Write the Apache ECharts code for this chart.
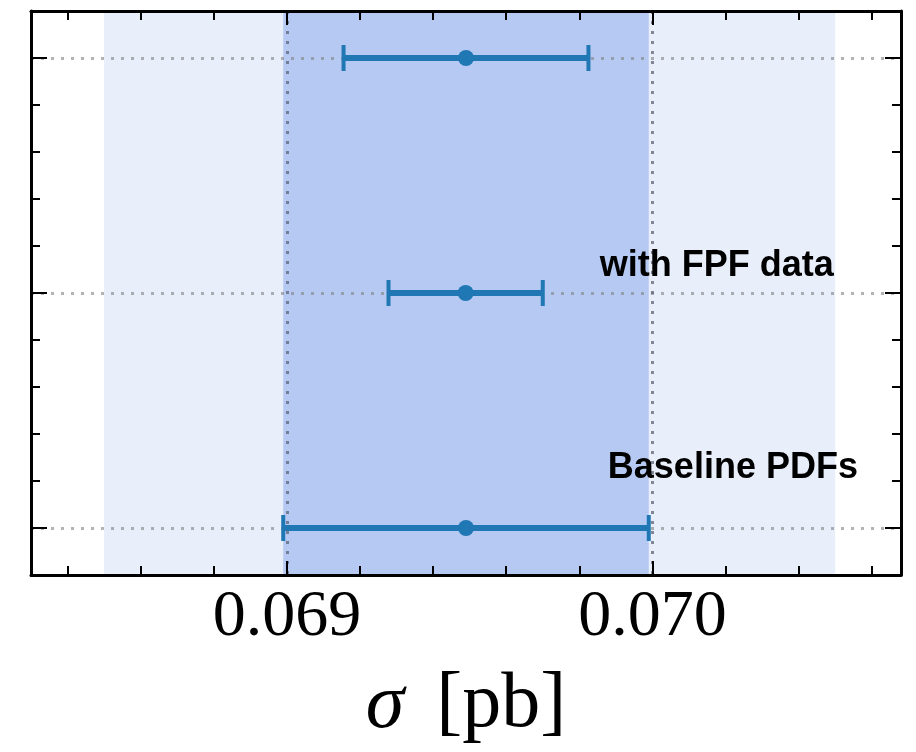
<!DOCTYPE html>
<html>
<head>
<meta charset="utf-8">
<script src="https://cdn.jsdelivr.net/npm/echarts@6/dist/echarts.min.js"></script>
<style>
  html, body { margin: 0; padding: 0; background: #ffffff; }
  #chart { width: 916px; height: 752px; }
</style>
</head>
<body>
<div id="chart"></div>
<script>
// Cross-section estimates: row index (0 = bottom), central value and uncertainty range
const rows = [2, 1, 0];
const centers = [0.06949, 0.069489, 0.06949];
const lows = [0.069155, 0.069278, 0.06899];
const highs = [0.069825, 0.0697, 0.06999];

// Shaded uncertainty bands (outer, inner)
const bandLows = [0.0685, 0.06899];
const bandHighs = [0.0705, 0.06999];

// Axis ranges and ticks
const xRange = [0.0683, 0.07068];
const yRange = [-0.2, 2.2];
const xMinorTicks = [0.0684, 0.0686, 0.0688, 0.0690, 0.0692, 0.0694, 0.0696, 0.0698, 0.0700, 0.0702, 0.0704, 0.0706];
const xMajorTicks = [0.069, 0.070];
const xTickLabels = ['0.069', '0.070'];
const yMajorTicks = [0, 1, 2];

// Text annotations
const annotationText = ['with FPF data', 'Baseline PDFs'];
const annotationX = [0.069856, 0.069878];
const annotationY = [1.116, 0.256];

const barColor = '#1f77b4';
const bandColors = ['#e8eefa', '#b6c9f2'];
const serif = '"Liberation Serif", "Times New Roman", serif';

const chart = echarts.init(document.getElementById('chart'), null, { renderer: 'canvas' });

const axisLineStyle = { color: '#000', width: 3 };
const tickStyle = { color: '#000', width: 2 };

function xAxisDef(pos, major, withLabels) {
  const ax = {
    type: 'value',
    position: pos,
    min: xRange[0],
    max: xRange[1],
    axisLine: { show: !major, onZero: false, lineStyle: axisLineStyle },
    axisTick: {
      show: true, inside: true, length: major ? 14 : 9, lineStyle: tickStyle,
      customValues: major ? xMajorTicks : xMinorTicks
    },
    axisLabel: { show: false },
    splitLine: { show: false }
  };
  if (withLabels) {
    ax.axisLabel = {
      show: true,
      customValues: xMajorTicks,
      formatter: v => {
        const i = xMajorTicks.findIndex(t => Math.abs(t - v) < 1e-9);
        return i >= 0 ? xTickLabels[i] : '';
      },
      margin: 10,
      fontFamily: serif,
      fontSize: 66,
      color: '#000'
    };
    ax.name = '{s|σ}{g|}[pb]';
    ax.nameLocation = 'middle';
    ax.nameGap = 92;
    ax.nameTextStyle = {
      fontFamily: serif,
      fontSize: 78,
      color: '#000',
      rich: {
        s: { fontFamily: serif, fontStyle: 'italic', fontSize: 78, color: '#000' },
        g: { width: 32 }
      }
    };
  }
  if (major && pos === 'bottom') {
    ax.splitLine = {
      show: true,
      lineStyle: { color: 'rgba(95,100,120,0.75)', width: 3, type: [3, 7] }
    };
  }
  return ax;
}

function yAxisDef(pos, major) {
  const ax = {
    type: 'value',
    position: pos,
    min: yRange[0],
    max: yRange[1],
    axisLine: { show: !major, onZero: false, lineStyle: axisLineStyle },
    axisTick: { show: true, inside: true, length: major ? 16 : 9, lineStyle: tickStyle },
    axisLabel: { show: false },
    splitLine: { show: false }
  };
  if (major) {
    ax.axisTick.customValues = yMajorTicks;
    if (pos === 'left') {
      ax.splitLine = {
        show: true,
        lineStyle: { color: 'rgba(128,128,128,0.6)', width: 3, type: [3, 7] }
      };
    }
  } else {
    ax.interval = 0.2;
  }
  return ax;
}

const errorData = rows.map((r, i) => [r, lows[i], highs[i]]);
const pointData = rows.map((r, i) => [centers[i], r]);
const bandData = bandLows.map((lo, i) => [lo, bandHighs[i], i]);
const annotationData = annotationText.map((t, i) => ({ name: t, value: [annotationX[i], annotationY[i]] }));

chart.setOption({
  animation: false,
  backgroundColor: '#ffffff',
  grid: { left: 31, right: 15, top: 11, bottom: 177, containLabel: false },
  xAxis: [
    xAxisDef('bottom', false, true),
    xAxisDef('top', false, false),
    xAxisDef('bottom', true, false),
    xAxisDef('top', true, false)
  ],
  yAxis: [
    yAxisDef('left', false),
    yAxisDef('right', false),
    yAxisDef('left', true),
    yAxisDef('right', true)
  ],
  series: [
    {
      // shaded bands spanning the full height of the plot
      type: 'custom',
      z: -1,
      silent: true,
      xAxisIndex: 0,
      yAxisIndex: 0,
      data: bandData,
      renderItem: (params, api) => {
        const x0 = api.coord([api.value(0), 0])[0];
        const x1 = api.coord([api.value(1), 0])[0];
        const cs = params.coordSys;
        return {
          type: 'rect',
          shape: { x: x0, y: cs.y, width: x1 - x0, height: cs.height },
          style: { fill: bandColors[api.value(2)] }
        };
      },
      encode: { x: [0, 1] }
    },
    {
      // horizontal error bars with end caps
      type: 'custom',
      z: 3,
      xAxisIndex: 0,
      yAxisIndex: 0,
      data: errorData,
      renderItem: (params, api) => {
        const row = api.value(0);
        const a = api.coord([api.value(1), row]);
        const b = api.coord([api.value(2), row]);
        const capH = 13;
        return {
          type: 'group',
          children: [
            { type: 'line', shape: { x1: a[0], y1: a[1], x2: b[0], y2: b[1] },
              style: { stroke: barColor, lineWidth: 6 } },
            { type: 'line', shape: { x1: a[0], y1: a[1] - capH, x2: a[0], y2: a[1] + capH },
              style: { stroke: barColor, lineWidth: 4 } },
            { type: 'line', shape: { x1: b[0], y1: b[1] - capH, x2: b[0], y2: b[1] + capH },
              style: { stroke: barColor, lineWidth: 4 } }
          ]
        };
      },
      encode: { x: [1, 2], y: 0 }
    },
    {
      // central values
      type: 'scatter',
      z: 4,
      xAxisIndex: 0,
      yAxisIndex: 0,
      symbol: 'circle',
      symbolSize: 16,
      itemStyle: { color: barColor, opacity: 1 },
      data: pointData
    },
    {
      // row annotations
      type: 'scatter',
      z: 5,
      xAxisIndex: 0,
      yAxisIndex: 0,
      symbolSize: 0,
      silent: true,
      itemStyle: { opacity: 1, color: '#000' },
      data: annotationData,
      label: {
        show: true,
        position: [0, 0],
        align: 'left',
        verticalAlign: 'middle',
        formatter: p => p.name,
        fontFamily: '"Liberation Sans", Arial, sans-serif',
        fontWeight: 'bold',
        fontSize: 36,
        color: '#000000',
        opacity: 1,
        textBorderWidth: 0
      }
    }
  ]
});
</script>
</body>
</html>
